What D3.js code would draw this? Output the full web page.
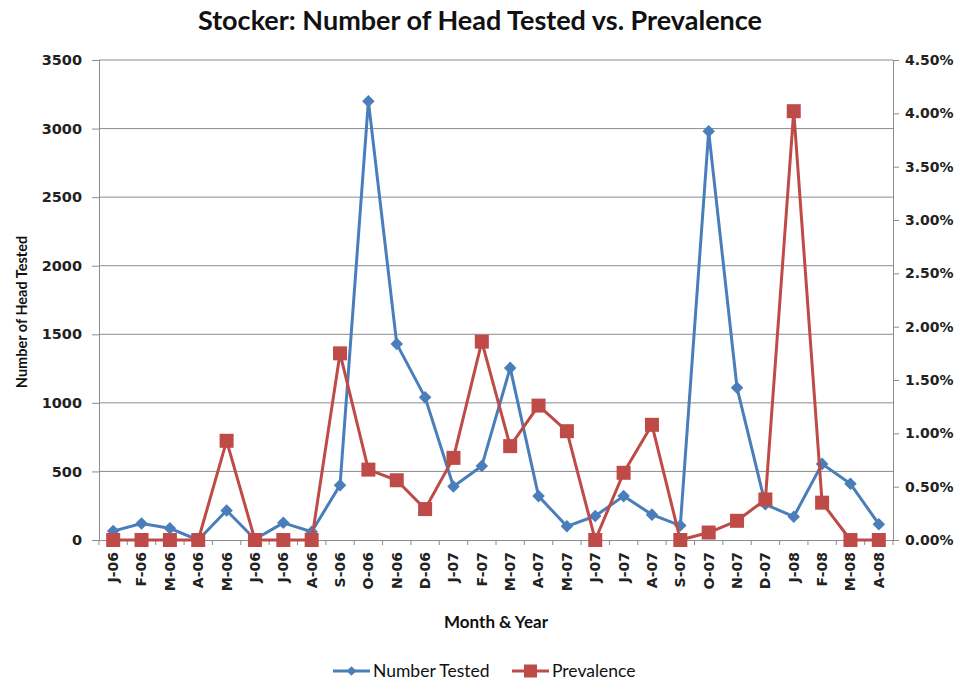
<!DOCTYPE html>
<html>
<head>
<meta charset="utf-8">
<script src="https://cdn.jsdelivr.net/npm/d3@7"></script>
<style>
  body { margin: 0; background: #fff; }
  svg { font-family: Lato, "Open Sans", sans-serif; }
  .tick text { font-family: "DejaVu Sans", sans-serif; font-weight: bold; fill: #222; }
</style>
</head>
<body>
<svg id="chart" width="961" height="685"></svg>
<script>
// Month labels along the x axis
const months = ['J-06', 'F-06', 'M-06', 'A-06', 'M-06', 'J-06', 'J-06', 'A-06', 'S-06', 'O-06',
  'N-06', 'D-06', 'J-07', 'F-07', 'M-07', 'A-07', 'M-07', 'J-07', 'J-07', 'A-07', 'S-07',
  'O-07', 'N-07', 'D-07', 'J-08', 'F-08', 'M-08', 'A-08'];

// Number of head tested (left axis)
const numberTested = [65, 120, 85, 0, 215, 5, 125, 60, 400, 3200, 1430, 1040, 390, 540,
  1255, 320, 100, 175, 320, 185, 105, 2980, 1110, 260, 170, 555, 410, 115];

// Prevalence in % (right axis)
const prevalence = [0, 0, 0, 0, 0.93, 0, 0, 0, 1.75, 0.66, 0.56, 0.29, 0.77, 1.86,
  0.88, 1.26, 1.02, 0, 0.63, 1.08, 0, 0.07, 0.18, 0.38, 4.02, 0.35, 0, 0];

const leftTicks = [0, 500, 1000, 1500, 2000, 2500, 3000, 3500];
const rightTicks = [0, 0.5, 1, 1.5, 2, 2.5, 3, 3.5, 4, 4.5];

const blue = '#4a7ebb';
const red = '#be4b48';
const gridColor = '#8c8c8c';

const svg = d3.select('#chart');
const margin = { top: 60, right: 68, bottom: 145, left: 99 };
const width = 961 - margin.left - margin.right;
const height = 685 - margin.top - margin.bottom;

const g = svg.append('g').attr('transform', `translate(${margin.left},${margin.top})`);

// Scales
const x = d3.scaleBand().domain(d3.range(months.length)).range([0, width]);
const yLeft = d3.scaleLinear().domain([0, 3500]).range([height, 0]);
const yRight = d3.scaleLinear().domain([0, 4.5]).range([height, 0]);
const cx = i => x(i) + x.bandwidth() / 2;

// Gridlines
g.append('g')
  .selectAll('line')
  .data(leftTicks.slice(1))
  .enter().append('line')
  .attr('x1', 0)
  .attr('x2', width)
  .attr('y1', d => yLeft(d))
  .attr('y2', d => yLeft(d))
  .attr('stroke', gridColor)
  .attr('stroke-width', 1);

// Left axis
const leftAxis = g.append('g')
  .call(d3.axisLeft(yLeft).tickValues(leftTicks).tickSize(7).tickPadding(10)
    .tickFormat(d3.format('d')));
leftAxis.selectAll('text').style('font-size', '14.5px');

// Right axis
const rightAxis = g.append('g')
  .attr('transform', `translate(${width},0)`)
  .call(d3.axisRight(yRight).tickValues(rightTicks).tickSize(6).tickPadding(6)
    .tickFormat(d => `${d.toFixed(2)}%`));
rightAxis.selectAll('text').style('font-size', '14px');

// Bottom axis: ticks sit between categories
const bottomAxis = g.append('g')
  .attr('transform', `translate(0,${height})`)
  .call(d3.axisBottom(x).tickSize(0).tickFormat(i => months[i]));
bottomAxis.selectAll('text')
  .style('font-size', '14px')
  .attr('transform', 'rotate(-90)')
  .attr('text-anchor', 'end')
  .attr('x', -12)
  .attr('y', 0)
  .attr('dy', '0.35em');
bottomAxis.append('g')
  .selectAll('line')
  .data(d3.range(months.length + 1))
  .enter().append('line')
  .attr('x1', i => i * x.step())
  .attr('x2', i => i * x.step())
  .attr('y1', 0)
  .attr('y2', 5)
  .attr('stroke', gridColor);

[leftAxis, rightAxis, bottomAxis].forEach((a) => {
  a.selectAll('.domain').attr('stroke', gridColor);
  a.selectAll('.tick line').attr('stroke', gridColor);
});

// Lines
const blueLine = d3.line().x((d, i) => cx(i)).y(d => yLeft(d));
const redLine = d3.line().x((d, i) => cx(i)).y(d => yRight(d));

g.append('path')
  .datum(numberTested)
  .attr('fill', 'none')
  .attr('stroke', blue)
  .attr('stroke-width', 3)
  .attr('stroke-linejoin', 'round')
  .attr('d', blueLine);

g.selectAll('path.diamond')
  .data(numberTested)
  .enter().append('path')
  .attr('class', 'diamond')
  .attr('d', d3.symbol().type(d3.symbolDiamond2).size(100))
  .attr('transform', (d, i) => `translate(${cx(i)},${yLeft(d)})`)
  .attr('fill', blue);

g.append('path')
  .datum(prevalence)
  .attr('fill', 'none')
  .attr('stroke', red)
  .attr('stroke-width', 3)
  .attr('stroke-linejoin', 'round')
  .attr('d', redLine);

g.selectAll('rect.square')
  .data(prevalence)
  .enter().append('rect')
  .attr('class', 'square')
  .attr('x', (d, i) => cx(i) - 7)
  .attr('y', d => yRight(d) - 7)
  .attr('width', 14)
  .attr('height', 14)
  .attr('fill', red);

// Titles
svg.append('text')
  .attr('x', 480)
  .attr('y', 30)
  .attr('text-anchor', 'middle')
  .style('font-size', '27px')
  .style('font-weight', 'bold')
  .attr('fill', '#111')
  .text('Stocker: Number of Head Tested vs. Prevalence');

svg.append('text')
  .attr('x', 496)
  .attr('y', 628)
  .attr('text-anchor', 'middle')
  .style('font-size', '17px')
  .style('font-weight', 'bold')
  .attr('fill', '#111')
  .text('Month & Year');

svg.append('text')
  .attr('transform', 'translate(27,312) rotate(-90)')
  .attr('text-anchor', 'middle')
  .style('font-size', '14.5px')
  .style('font-weight', 'bold')
  .attr('fill', '#111')
  .text('Number of Head Tested');

// Legend
const legend = svg.append('g').attr('transform', 'translate(333,671)');
const legendItems = [
  { name: 'Number Tested', color: blue, x: 0, shape: 'diamond' },
  { name: 'Prevalence', color: red, x: 179, shape: 'square' },
];
legendItems.forEach((item) => {
  const li = legend.append('g').attr('transform', `translate(${item.x},0)`);
  li.append('line')
    .attr('x1', 0).attr('x2', 37)
    .attr('y1', 0).attr('y2', 0)
    .attr('stroke', item.color)
    .attr('stroke-width', 3);
  if (item.shape === 'diamond') {
    li.append('path')
      .attr('d', d3.symbol().type(d3.symbolDiamond2).size(60))
      .attr('transform', 'translate(18.5,0)')
      .attr('fill', item.color);
  } else {
    li.append('rect')
      .attr('x', 12).attr('y', -6.5)
      .attr('width', 13).attr('height', 13)
      .attr('fill', item.color);
  }
  li.append('text')
    .attr('x', 40)
    .attr('y', 0)
    .attr('dy', '0.35em')
    .style('font-size', '17.5px')
    .attr('fill', '#111')
    .text(item.name);
});
</script>
</body>
</html>
